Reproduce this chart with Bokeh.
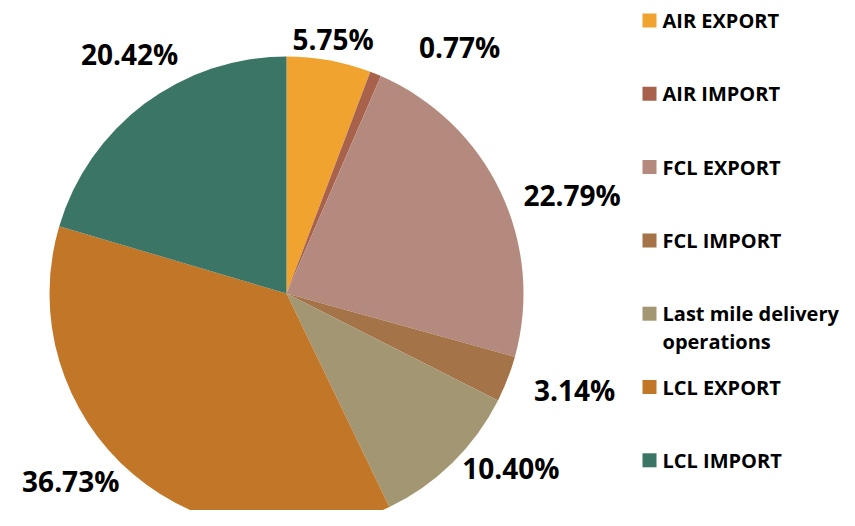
import math
from bokeh.plotting import figure
from bokeh.models import Range1d, ColumnDataSource
from bokeh.core.properties import value
from bokeh.embed import file_html
from bokeh.resources import INLINE

# ---- data ----
categories = ["AIR EXPORT", "AIR IMPORT", "FCL EXPORT", "FCL IMPORT",
              "Last mile delivery\noperations", "LCL EXPORT", "LCL IMPORT"]
shares = [5.75, 0.77, 22.79, 3.14, 10.40, 36.73, 20.42]
colors = ["#F0A32F", "#A8624B", "#B58A7E", "#A47347", "#A39673", "#C17628", "#3A7565"]

# ---- layout (reference pixel frame: y_data = 526 - y_pixel) ----
W, H = 839, 510
cx, cy, r = 286, 526 - 293, 237
label_nudge_deg = [0, 13, 6.5, -2.6, -7.7, 8.6, 3.5]
label_dist = [259, 301, 302, 304, 284, 286, 286]

total = sum(shares)
starts, ends, lx, ly, ltxt = [], [], [], [], []
cum = 0.0
for i, s in enumerate(shares):
    a0 = math.pi / 2 - 2 * math.pi * cum / total
    a1 = math.pi / 2 - 2 * math.pi * (cum + s) / total
    starts.append(a0)
    ends.append(a1)
    mid = (a0 + a1) / 2 - math.radians(label_nudge_deg[i])
    lx.append(cx + label_dist[i] * math.cos(mid))
    ly.append(cy + label_dist[i] * math.sin(mid))
    ltxt.append(f"{s:.2f}%")
    cum += s

p = figure(width=W, height=H, output_backend="svg", toolbar_location=None,
           x_range=Range1d(0, W), y_range=Range1d(526 - H, 526),
           min_border=0, outline_line_color=None, background_fill_color="white",
           border_fill_color="white")
p.axis.visible = False
p.grid.visible = False

src = ColumnDataSource(dict(start=starts, end=ends, color=colors))
p.wedge(x=cx, y=cy, radius=r, start_angle="start", end_angle="end",
        direction="clock", fill_color="color", line_color=None, source=src)

p.text(x=lx, y=ly, text=ltxt, text_font=value("Open Sans"), text_font_style="bold",
       text_font_size="28px", text_align="center", text_baseline="middle",
       text_color="#000000")

# legend drawn manually
row0, step, line_gap = 526 - 20, 73.3, 28
leg_y = [row0 - step * i for i in range(len(categories))]
p.rect(x=[649] * len(categories), y=leg_y, width=14, height=14,
       fill_color=colors, line_color=None)
tx, ty, tt = [], [], []
for y, cat in zip(leg_y, categories):
    for j, line in enumerate(cat.split("\n")):
        tx.append(662)
        ty.append(y - line_gap * j)
        tt.append(line)
p.text(x=tx, y=ty, text=tt,
       text_font=value("Open Sans"), text_font_style="bold", text_font_size="20px",
       text_align="left", text_baseline="middle", text_color="#000000")

open("out.html", "w").write(file_html(p, INLINE))
